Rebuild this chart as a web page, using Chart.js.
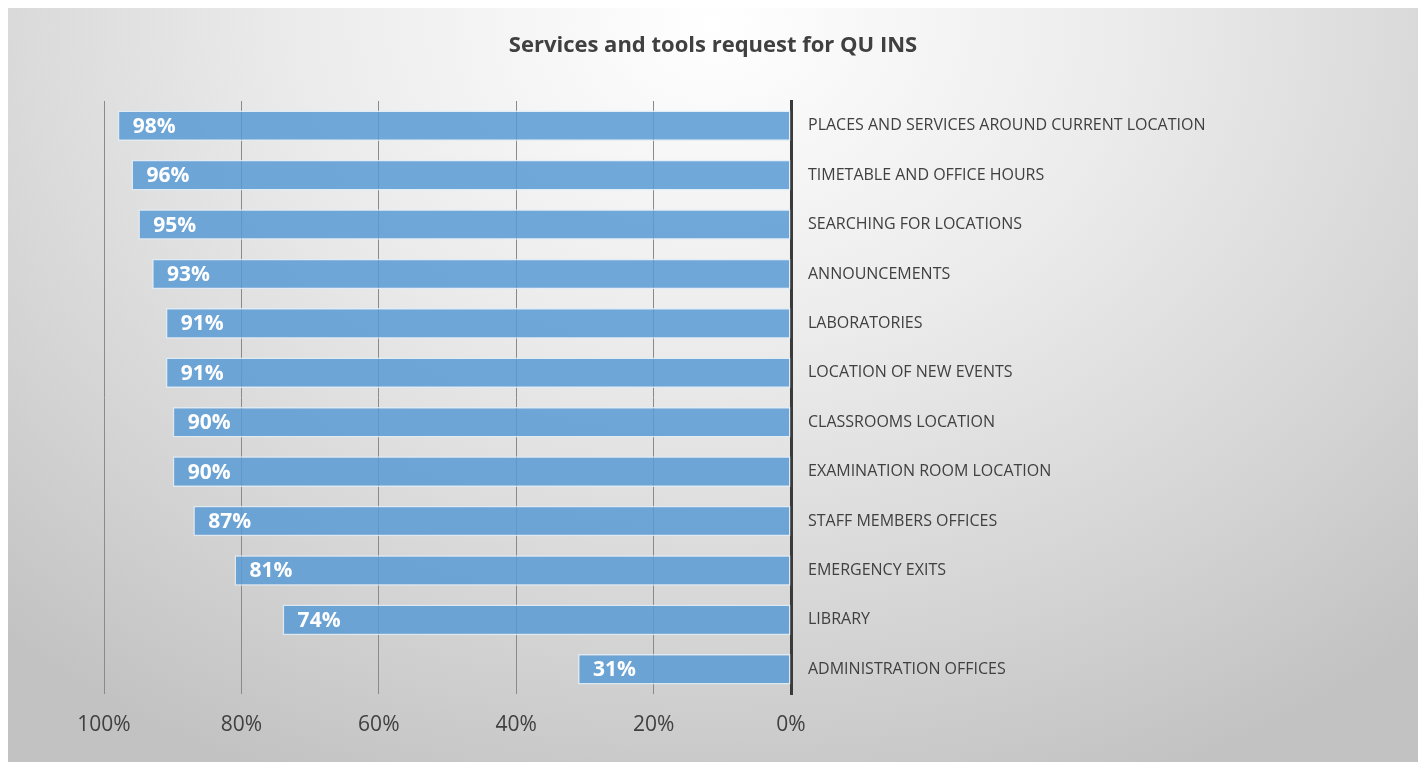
<!DOCTYPE html>
<html lang="en">
<head>
    <meta charset="UTF-8">
    <title>Services and tools request for QU INS</title>
    <script src="https://cdn.jsdelivr.net/npm/chart.js"></script>
    <style>
        html, body { margin: 0; padding: 0; background: #fff; }
        .frame {
            position: absolute; left: 8px; top: 8px;
            width: 1410px; height: 754px;
            background: radial-gradient(ellipse 75% 110% at 50% 2%, #ffffff 0%, #ebebeb 40%, #d4d4d4 75%, #c2c2c2 100%);
        }
        canvas { display: block; }
    </style>
</head>
<body>
<div class="frame">
    <canvas id="chart" width="1410" height="754"></canvas>
</div>

<script>
    const chartTitle = 'Services and tools request for QU INS';
    const categories = [
        'PLACES AND SERVICES AROUND CURRENT LOCATION',
        'TIMETABLE AND OFFICE HOURS',
        'SEARCHING FOR LOCATIONS',
        'ANNOUNCEMENTS',
        'LABORATORIES',
        'LOCATION OF NEW EVENTS',
        'CLASSROOMS LOCATION',
        'EXAMINATION ROOM LOCATION',
        'STAFF MEMBERS OFFICES',
        'EMERGENCY EXITS',
        'LIBRARY',
        'ADMINISTRATION OFFICES'
    ];
    const requestPct = [98, 96, 95, 93, 91, 91, 90, 90, 87, 81, 74, 31];
    const tickValues = [0, 20, 40, 60, 80, 100];

    const textColor = '#404040';
    const fontFamily = '"Open Sans", "Liberation Sans", sans-serif';

    // title centred over the whole frame, not just the plot
    const frameTitle = {
        id: 'frameTitle',
        afterDraw(chart) {
            const ctx = chart.ctx;
            ctx.save();
            ctx.fillStyle = textColor;
            ctx.font = 'bold 22px ' + fontFamily;
            ctx.textAlign = 'center';
            ctx.textBaseline = 'middle';
            ctx.fillText(chartTitle, chart.width / 2, 38);
            ctx.restore();
        }
    };

    // white bold value at the outer end of each bar
    const barValueLabels = {
        id: 'barValueLabels',
        afterDatasetsDraw(chart) {
            const ctx = chart.ctx;
            const meta = chart.getDatasetMeta(0);
            ctx.save();
            ctx.fillStyle = '#ffffff';
            ctx.font = 'bold 21px ' + fontFamily;
            ctx.textAlign = 'left';
            ctx.textBaseline = 'middle';
            meta.data.forEach((bar, i) => {
                ctx.fillText(requestPct[i] + '%', bar.x + 15, bar.y + 1);
            });
            ctx.restore();
        }
    };

    new Chart(document.getElementById('chart'), {
        type: 'bar',
        data: {
            labels: categories,
            datasets: [{
                data: requestPct,
                backgroundColor: 'rgba(91, 155, 213, 0.86)',
                borderColor: 'rgba(225, 236, 247, 0.85)',
                borderWidth: 1.5,
                borderSkipped: false,
                barPercentage: 0.62,
                categoryPercentage: 1
            }]
        },
        options: {
            indexAxis: 'y',
            responsive: false,
            animation: false,
            layout: { padding: { left: 96, right: 0, top: 93, bottom: 0 } },
            scales: {
                x: {
                    reverse: true,
                    min: 0,
                    max: 100,
                    afterBuildTicks(scale) {
                        scale.ticks = tickValues.map(v => ({ value: v }));
                    },
                    afterFit(scale) { scale.height = 68; },
                    grid: { color: '#8a8a8a', lineWidth: 1, drawTicks: false },
                    border: { display: false },
                    ticks: {
                        padding: 18,
                        color: textColor,
                        font: { family: fontFamily, size: 21 },
                        callback: v => v + '%'
                    }
                },
                y: {
                    position: 'right',
                    afterFit(scale) { scale.width = 627; },
                    grid: { display: false, drawTicks: false },
                    border: { display: true, color: '#3a3a3a', width: 3 },
                    ticks: {
                        padding: 17,
                        color: textColor,
                        font: { family: fontFamily, size: 16 }
                    }
                }
            },
            plugins: {
                legend: { display: false },
                tooltip: { enabled: false },
                title: { display: false }
            }
        },
        plugins: [barValueLabels, frameTitle]
    });
</script>
</body>
</html>
